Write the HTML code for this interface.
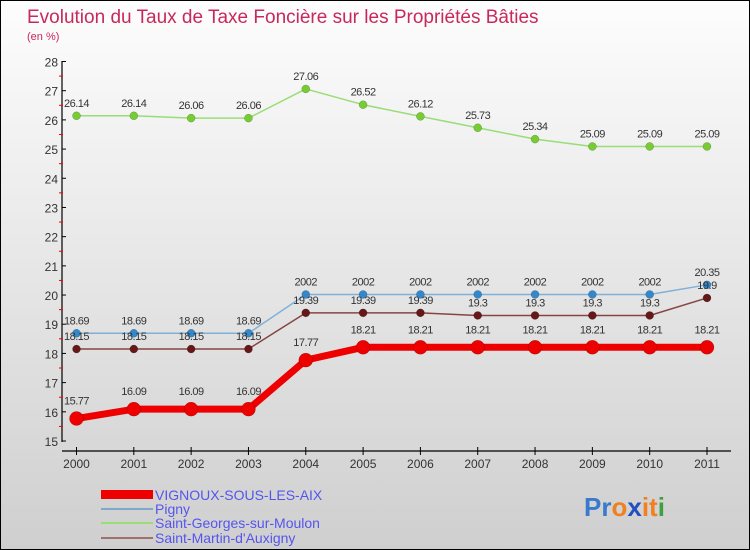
<!DOCTYPE html>
<html><head><meta charset="utf-8"><style>
body{margin:0;}
#wrap{position:relative;width:748px;height:548px;border:1px solid #000;background:linear-gradient(#fdfdfd,#cfcfcf);font-family:"Liberation Sans",sans-serif;overflow:hidden}
</style></head><body>
<div id="wrap">
<svg id="svg" width="748" height="548" xmlns="http://www.w3.org/2000/svg">
<text x="26" y="22" font-size="19" fill="#c8285a">Evolution du Taux de Taxe Foncière sur les Propriétés Bâties</text>
<text x="26" y="39" font-size="11" fill="#c8285a">(en %)</text>
<g id="axes"></g><g id="series"></g>
<g>
<rect x="100" y="489" width="52" height="9" fill="#e00"/>
<text x="154" y="499" font-size="14" fill="#5555ee">VIGNOUX-SOUS-LES-AIX</text>
<line x1="100" y1="508" x2="152" y2="508" stroke="#80a8c8" stroke-width="2"/>
<text x="154" y="513" font-size="14" fill="#5555ee">Pigny</text>
<line x1="100" y1="522" x2="152" y2="522" stroke="#99dd77" stroke-width="2"/>
<text x="154" y="527" font-size="14" fill="#5555ee">Saint-Georges-sur-Moulon</text>
<line x1="100" y1="537" x2="152" y2="537" stroke="#a07070" stroke-width="2"/>
<text x="154" y="542" font-size="14" fill="#5555ee">Saint-Martin-d'Auxigny</text>
</g>
<g font-size="26" font-weight="bold">
<text x="583" y="515"><tspan fill="#3a7acc">Pr</tspan><tspan fill="#f08020">o</tspan><tspan fill="#2050c0">x</tspan><tspan fill="#f08020">it</tspan><tspan fill="#40a040">i</tspan></text>
</g>
</svg></div>
<script>
const years=[2000,2001,2002,2003,2004,2005,2006,2007,2008,2009,2010,2011];
const yTicks=[15,16,17,18,19,20,21,22,23,24,25,26,27,28];
const vignoux=[15.77,16.09,16.09,16.09,17.77,18.21,18.21,18.21,18.21,18.21,18.21,18.21];
const pigny=[18.69,18.69,18.69,18.69,20.02,20.02,20.02,20.02,20.02,20.02,20.02,20.35];
const stGeorges=[26.14,26.14,26.06,26.06,27.06,26.52,26.12,25.73,25.34,25.09,25.09,25.09];
const stMartin=[18.15,18.15,18.15,18.15,19.39,19.39,19.39,19.3,19.3,19.3,19.3,19.9];
const NS="http://www.w3.org/2000/svg";
const xS=i=>75.5+i*(706-75.5)/(years.length-1);
const yS=v=>440-(v-15)*(440-60.5)/13;
function mk(t,a,p){const e=document.createElementNS(NS,t);for(const k in a)e.setAttribute(k,a[k]);p.appendChild(e);return e;}
const ax=document.getElementById('axes');
let e=mk('line',{x1:61,y1:60,x2:61,y2:441,stroke:'#000','stroke-width':1.2},ax);


e=mk('line',{x1:61,y1:450,x2:730,y2:450,stroke:'#000','stroke-width':1.2},ax);


yTicks.forEach(v=>{const y=yS(v);
mk('line',{x1:61,y1:y,x2:65,y2:y,stroke:'#000'},ax);
if(v<28)mk('line',{x1:58,y1:y-14.6,x2:62,y2:y-14.6,stroke:'#e00'},ax);
const t=mk('text',{x:57,y:y+5,'font-size':12,fill:'#333','text-anchor':'end'},ax);t.textContent=v;

});
years.forEach((yr,i)=>{const x=xS(i);
mk('line',{x1:x,y1:446,x2:x,y2:454,stroke:'#000'},ax);
const t=mk('text',{x:x,y:467,'font-size':12,fill:'#333','text-anchor':'middle'},ax);t.textContent=yr;

});
const sg=document.getElementById('series');
function series(vals,name,line,w,dot,r,off,fmt){
const g=mk('g',{},sg);


const p=mk('polyline',{points:vals.map((v,i)=>xS(i)+','+yS(v)).join(' '),fill:'none',stroke:line,'stroke-width':w,'stroke-linejoin':'round'},g);


vals.forEach((v,i)=>{const c=mk('circle',{cx:xS(i),cy:yS(v),r:r,fill:dot,stroke:'rgba(0,0,0,0.3)','stroke-width':0.5},g);


const t=mk('text',{x:xS(i),y:yS(v)+off,'font-size':11,fill:'#333','text-anchor':'middle','letter-spacing':'-0.5'},g);
t.textContent=fmt(v);

});}
const f2=v=>String(v).replace('.','').length>=4&&v>=20&&v<21&&v!==20.35?String(Math.round(v*100)).padStart(4,'0').replace(/^(\d\d)/,'$1'):String(v);
series(stGeorges,'saint-georges','#99dd77',1.5,'#77cc33',4,-9,v=>String(v));
series(pigny,'pigny','#80b0d8',1.5,'#3388cc',4,-9,v=>v===20.02?'2002':String(v));
series(stMartin,'saint-martin','#884444',1.5,'#661818',4,-9,v=>String(v));
series(vignoux,'vignoux','#ee0000',7,'#ee0000',7,-14,v=>String(v));
</script>
</body></html>
